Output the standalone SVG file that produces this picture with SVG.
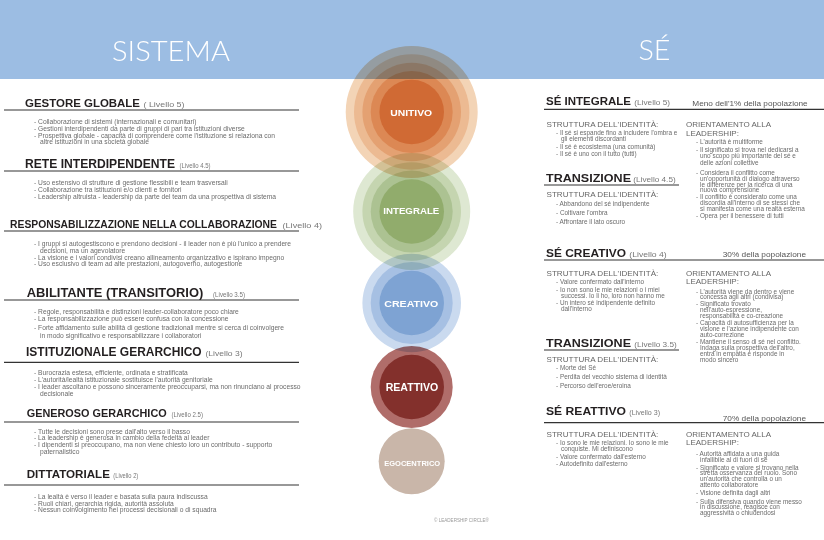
<svg xmlns="http://www.w3.org/2000/svg" width="824" height="540" viewBox="0 0 824 540">
<style>
text{font-family:"Liberation Sans",Arial,sans-serif}
.ttl{font-family:"Lato","Roboto","Open Sans",sans-serif;font-weight:300;font-size:28px;fill:#ffffff}
.h{font-weight:bold;fill:#231f20}
.hr{font-weight:bold;font-size:11.5px;fill:#231f20}
.lv{font-size:7.5px;fill:#777777}
.lvr{font-size:8px;fill:#777777}
.b{font-size:6.7px;fill:#6b6b6b}
.br{font-size:6.4px;fill:#6b6b6b}
.st{font-size:8px;fill:#666666}
.pop{font-size:8px;fill:#555555}
.rule{stroke:#333333;stroke-width:1.2;fill:none}
.ct{font-weight:bold;fill:#ffffff;text-anchor:middle}
.lvl{mix-blend-mode:multiply}
</style>
<rect x="0" y="0" width="824" height="540" fill="#ffffff"/>
<rect x="0" y="0" width="824" height="79" fill="#9cbde3"/>
<text class="ttl" x="112" y="60.7" textLength="118" lengthAdjust="spacingAndGlyphs">SISTEMA</text>
<text class="ttl" x="638.5" y="60" textLength="32" lengthAdjust="spacingAndGlyphs">SÉ</text>

<g id="unitivo" class="lvl">
<circle cx="411.7" cy="112" r="66" fill="#f3d4b6"/>
<circle cx="411.7" cy="112" r="57.7" fill="#ecba92"/>
<circle cx="411.7" cy="112" r="49.3" fill="#e4a172"/>
<circle cx="411.7" cy="112" r="41" fill="#dc8854"/>
<circle cx="411.7" cy="112" r="32.3" fill="#d06a34"/>
</g>
<g id="integrale" class="lvl">
<circle cx="411.7" cy="211.5" r="58.5" fill="#dee8d2"/>
<circle cx="411.7" cy="211.5" r="49.3" fill="#c5d5b0"/>
<circle cx="411.7" cy="211.5" r="41" fill="#acc292"/>
<circle cx="411.7" cy="211.5" r="32.3" fill="#91ac6c"/>
</g>
<g id="creativo" class="lvl">
<circle cx="411.7" cy="303" r="49.3" fill="#cadaef"/>
<circle cx="411.7" cy="303" r="41" fill="#a6c0e3"/>
<circle cx="411.7" cy="303" r="32.3" fill="#7ea3d3"/>
</g>
<g id="reattivo" class="lvl">
<circle cx="411.7" cy="387" r="41" fill="#b06d6a"/>
<circle cx="411.7" cy="387" r="32.3" fill="#83302c"/>
</g>
<g id="egocentrico" class="lvl">
<circle cx="411.7" cy="461.3" r="33" fill="#c9b6a9"/>
</g>
<g id="circle-labels">
<text class="ct" x="411.2" y="116" font-size="9" textLength="42" lengthAdjust="spacingAndGlyphs">UNITIVO</text>
<text class="ct" x="411.3" y="214" font-size="9" textLength="56" lengthAdjust="spacingAndGlyphs">INTEGRALE</text>
<text class="ct" x="411.3" y="306.7" font-size="9" textLength="54" lengthAdjust="spacingAndGlyphs">CREATIVO</text>
<text class="ct" x="412" y="391" font-size="10.5" textLength="52.6" lengthAdjust="spacingAndGlyphs">REATTIVO</text>
<text class="ct" x="412.2" y="466" font-size="8" textLength="56" lengthAdjust="spacingAndGlyphs">EGOCENTRICO</text>
</g>
<text x="434" y="521.5" font-size="4.8" fill="#9a9a9a" textLength="55" lengthAdjust="spacingAndGlyphs">© LEADERSHIP CIRCLE®</text>

<g id="connectors"></g>

<g id="gestore-globale">
<text class="h" x="25" y="107.3" style="font-size:11.4px" textLength="115" lengthAdjust="spacingAndGlyphs">GESTORE GLOBALE</text>
<text class="lv" x="143.5" y="107.3" textLength="41" lengthAdjust="spacingAndGlyphs">( Livello 5)</text>
<line class="rule" x1="4" y1="110" x2="299" y2="110"/>
<text class="b" x="34" y="124">- Collaborazione di sistemi (internazionali e comunitari)</text>
<text class="b" x="34" y="131">- Gestioni interdipendenti da parte di gruppi di pari tra istituzioni diverse</text>
<text class="b" x="34" y="137.7">- Prospettiva globale - capacità di comprendere come l'istituzione si relaziona con</text>
<text class="b" x="40" y="144.3">altre istituzioni in una società globale</text>
</g>
<g id="rete-interdipendente">
<text class="h" x="25" y="167.7" style="font-size:12px" textLength="150" lengthAdjust="spacingAndGlyphs">RETE INTERDIPENDENTE</text>
<text class="lv" x="179.5" y="167.7" textLength="31" lengthAdjust="spacingAndGlyphs">(Livello 4.5)</text>
<line class="rule" x1="4" y1="171" x2="299" y2="171"/>
<text class="b" x="34" y="185.3">- Uso estensivo di strutture di gestione flessibili e team trasversali</text>
<text class="b" x="34" y="192.3">- Collaborazione tra istituzioni e/o clienti e fornitori</text>
<text class="b" x="34" y="199.3">- Leadership altruista - leadership da parte del team da una prospettiva di sistema</text>
</g>
<g id="responsabilizzazione">
<text class="h" x="10" y="228.3" style="font-size:10.3px" textLength="267" lengthAdjust="spacingAndGlyphs">RESPONSABILIZZAZIONE NELLA COLLABORAZIONE</text>
<text class="lv" x="282.5" y="228.3" textLength="39.5" lengthAdjust="spacingAndGlyphs">(Livello 4)</text>
<line class="rule" x1="4" y1="231" x2="299" y2="231"/>
<text class="b" x="34" y="246.3">- I gruppi si autogestiscono e prendono decisioni - il leader non è più l'unico a prendere</text>
<text class="b" x="40" y="252.7">decisioni, ma un agevolatore</text>
<text class="b" x="34" y="259.7">- La visione e i valori condivisi creano allineamento organizzativo e ispirano impegno</text>
<text class="b" x="34" y="266.3">- Uso esclusivo di team ad alte prestazioni, autogoverno, autogestione</text>
</g>
<g id="abilitante">
<text class="h" x="26.7" y="296.7" style="font-size:12.5px" textLength="176.6" lengthAdjust="spacingAndGlyphs">ABILITANTE (TRANSITORIO)</text>
<text class="lv" x="213" y="296.7" textLength="32" lengthAdjust="spacingAndGlyphs">(Livello 3.5)</text>
<line class="rule" x1="4" y1="300" x2="299" y2="300"/>
<text class="b" x="34" y="313.7">- Regole, responsabilità e distinzioni leader-collaboratore poco chiare</text>
<text class="b" x="34" y="320.7">- La responsabilizzazione può essere confusa con la concessione</text>
<text class="b" x="34" y="330.3">- Forte affidamento sulle abilità di gestione tradizionali mentre si cerca di coinvolgere</text>
<text class="b" x="40" y="337.7">in modo significativo e responsabilizzare i collaboratori</text>
</g>
<g id="istituzionale-gerarchico">
<text class="h" x="26" y="355.7" style="font-size:11.9px" textLength="175.7" lengthAdjust="spacingAndGlyphs">ISTITUZIONALE GERARCHICO</text>
<text class="lv" x="205.5" y="355.7" textLength="37" lengthAdjust="spacingAndGlyphs">(Livello 3)</text>
<line class="rule" x1="4" y1="362.3" x2="299" y2="362.3"/>
<text class="b" x="34" y="374.7">- Burocrazia estesa, efficiente, ordinata e stratificata</text>
<text class="b" x="34" y="382">- L'autorità/lealtà istituzionale sostituisce l'autorità genitoriale</text>
<text class="b" x="34" y="389.3">- I leader ascoltano e possono sinceramente preoccuparsi, ma non rinunciano al processo</text>
<text class="b" x="40" y="396">decisionale</text>
</g>
<g id="generoso-gerarchico">
<text class="h" x="26.7" y="416.7" style="font-size:10.8px" textLength="140" lengthAdjust="spacingAndGlyphs">GENEROSO GERARCHICO</text>
<text class="lv" x="171.5" y="416.7" textLength="31.5" lengthAdjust="spacingAndGlyphs">(Livello 2.5)</text>
<line class="rule" x1="4" y1="422" x2="299" y2="422"/>
<text class="b" x="34" y="433.7">- Tutte le decisioni sono prese dall'alto verso il basso</text>
<text class="b" x="34" y="440.3">- La leadership è generosa in cambio della fedeltà al leader</text>
<text class="b" x="34" y="447">- I dipendenti si preoccupano, ma non viene chiesto loro un contributo - supporto</text>
<text class="b" x="40" y="453.7">paternalistico</text>
</g>
<g id="dittatoriale">
<text class="h" x="26.7" y="478.3" style="font-size:11.3px" textLength="83.3" lengthAdjust="spacingAndGlyphs">DITTATORIALE</text>
<text class="lv" x="113.3" y="478.3" textLength="25" lengthAdjust="spacingAndGlyphs">(Livello 2)</text>
<line class="rule" x1="4" y1="485" x2="299" y2="485"/>
<text class="b" x="34" y="499">- La lealtà è verso il leader e basata sulla paura indiscussa</text>
<text class="b" x="34" y="505.7">- Ruoli chiari, gerarchia rigida, autorità assoluta</text>
<text class="b" x="34" y="512.3">- Nessun coinvolgimento nei processi decisionali o di squadra</text>
</g>

<g id="se-integrale">
<text class="hr" x="546" y="105" textLength="85" lengthAdjust="spacingAndGlyphs">SÉ INTEGRALE</text>
<text class="lvr" x="634.3" y="105" textLength="35.7" lengthAdjust="spacingAndGlyphs">(Livello 5)</text>
<text class="pop" x="692.3" y="106" textLength="115.4" lengthAdjust="spacingAndGlyphs">Meno dell'1% della popolazione</text>
<line class="rule" x1="544" y1="109.3" x2="824" y2="109.3"/>
<text class="st" x="546.5" y="127" textLength="111.8" lengthAdjust="spacingAndGlyphs">STRUTTURA DELL'IDENTITÀ:</text>
<text class="br" x="556" y="135.3">- Il sé si espande fino a includere l'ombra e</text>
<text class="br" x="561" y="141">gli elementi discordanti</text>
<text class="br" x="556" y="148.7">- Il sé è ecosistema (una comunità)</text>
<text class="br" x="556" y="156.3">- Il sé è uno con il tutto (tutti)</text>
<text class="st" x="686" y="127">ORIENTAMENTO ALLA</text>
<text class="st" x="686" y="135.5">LEADERSHIP:</text>
<text class="br" x="696" y="143.7">- L'autorità è multiforme</text>
<text class="br" x="696" y="152">- Il significato si trova nel dedicarsi a</text>
<text class="br" x="700" y="158">uno scopo più importante del sé e</text>
<text class="br" x="700" y="164.5">delle azioni collettive</text>
<text class="br" x="696" y="175">- Considera il conflitto come</text>
<text class="br" x="700" y="181">un'opportunità di dialogo attraverso</text>
<text class="br" x="700" y="186.7">le differenze per la ricerca di una</text>
<text class="br" x="700" y="192.2">nuova comprensione</text>
<text class="br" x="696" y="198.7">- Il conflitto è considerato come una</text>
<text class="br" x="700" y="204.7">discordia all'interno di se stessi che</text>
<text class="br" x="700" y="210.7">si manifesta come una realtà esterna</text>
<text class="br" x="696" y="218">- Opera per il benessere di tutti</text>
</g>
<g id="transizione-4-5">
<text class="hr" x="546" y="181.7" textLength="85" lengthAdjust="spacingAndGlyphs">TRANSIZIONE</text>
<text class="lvr" x="633.3" y="181.7" textLength="42.4" lengthAdjust="spacingAndGlyphs">(Livello 4.5)</text>
<line class="rule" x1="544" y1="185" x2="679" y2="185"/>
<text class="st" x="546.5" y="197" textLength="111.8" lengthAdjust="spacingAndGlyphs">STRUTTURA DELL'IDENTITÀ:</text>
<text class="br" x="556" y="205.5">- Abbandono del sé indipendente</text>
<text class="br" x="556" y="214.5">- Coltivare l'ombra</text>
<text class="br" x="556" y="223.5">- Affrontare il lato oscuro</text>
</g>
<g id="se-creativo">
<text class="hr" x="546" y="256.7" textLength="80" lengthAdjust="spacingAndGlyphs">SÉ CREATIVO</text>
<text class="lvr" x="629.3" y="256.7" textLength="37.4" lengthAdjust="spacingAndGlyphs">(Livello 4)</text>
<text class="pop" x="722.7" y="256.7" textLength="83.3" lengthAdjust="spacingAndGlyphs">30% della popolazione</text>
<line class="rule" x1="544" y1="260" x2="824" y2="260"/>
<text class="st" x="546.5" y="276" textLength="111.8" lengthAdjust="spacingAndGlyphs">STRUTTURA DELL'IDENTITÀ:</text>
<text class="br" x="556" y="283.7">- Valore confermato dall'interno</text>
<text class="br" x="556" y="292">- Io non sono le mie relazioni o i miei</text>
<text class="br" x="561" y="298">successi. Io li ho, loro non hanno me</text>
<text class="br" x="556" y="305.3">- Un intero sé indipendente definito</text>
<text class="br" x="561" y="311.3">dall'interno</text>
<text class="st" x="686" y="276">ORIENTAMENTO ALLA</text>
<text class="st" x="686" y="283.5">LEADERSHIP:</text>
<text class="br" x="696" y="293.7">- L'autorità viene da dentro e viene</text>
<text class="br" x="700" y="299.3">concessa agli altri (condivisa)</text>
<text class="br" x="696" y="306.3">- Significato trovato</text>
<text class="br" x="700" y="312">nell'auto-espressione,</text>
<text class="br" x="700" y="318">responsabilità e co-creazione</text>
<text class="br" x="696" y="325.3">- Capacità di autosufficienza per la</text>
<text class="br" x="700" y="331.3">visione e l'azione indipendente con</text>
<text class="br" x="700" y="337">auto-correzione</text>
<text class="br" x="696" y="344.3">- Mantiene il senso di sé nel conflitto.</text>
<text class="br" x="700" y="350.3">Indaga sulla prospettiva dell'altro,</text>
<text class="br" x="700" y="356.3">entra in empatia e risponde in</text>
<text class="br" x="700" y="362">modo sincero</text>
</g>
<g id="transizione-3-5">
<text class="hr" x="546" y="346.7" textLength="85" lengthAdjust="spacingAndGlyphs">TRANSIZIONE</text>
<text class="lvr" x="634.3" y="346.7" textLength="42.4" lengthAdjust="spacingAndGlyphs">(Livello 3.5)</text>
<line class="rule" x1="544" y1="350" x2="679" y2="350"/>
<text class="st" x="546.5" y="361.7" textLength="111.8" lengthAdjust="spacingAndGlyphs">STRUTTURA DELL'IDENTITÀ:</text>
<text class="br" x="556" y="370.3">- Morte del Sé</text>
<text class="br" x="556" y="378.7">- Perdita del vecchio sistema di identità</text>
<text class="br" x="556" y="387.7">- Percorso dell'eroe/eroina</text>
</g>
<g id="se-reattivo">
<text class="hr" x="546" y="415" textLength="80" lengthAdjust="spacingAndGlyphs">SÉ REATTIVO</text>
<text class="lvr" x="629.3" y="415" textLength="30.7" lengthAdjust="spacingAndGlyphs">(Livello 3)</text>
<text class="pop" x="722.7" y="420.5" textLength="83.3" lengthAdjust="spacingAndGlyphs">70% della popolazione</text>
<line class="rule" x1="544" y1="422.7" x2="824" y2="422.7"/>
<text class="st" x="546.5" y="437" textLength="111.8" lengthAdjust="spacingAndGlyphs">STRUTTURA DELL'IDENTITÀ:</text>
<text class="br" x="556" y="445.3">- Io sono le mie relazioni. Io sono le mie</text>
<text class="br" x="561" y="451.3">conquiste. Mi definiscono</text>
<text class="br" x="556" y="458.7">- Valore confermato dall'esterno</text>
<text class="br" x="556" y="466.3">- Autodefinito dall'esterno</text>
<text class="st" x="686" y="437">ORIENTAMENTO ALLA</text>
<text class="st" x="686" y="445">LEADERSHIP:</text>
<text class="br" x="696" y="456">- Autorità affidata a una guida</text>
<text class="br" x="700" y="462">infallibile al di fuori di sé</text>
<text class="br" x="696" y="469.7">- Significato e valore si trovano nella</text>
<text class="br" x="700" y="475.3">stretta osservanza del ruolo. Sono</text>
<text class="br" x="700" y="481.3">un'autorità che controlla o un</text>
<text class="br" x="700" y="487">attento collaboratore</text>
<text class="br" x="696" y="495.3">- Visione definita dagli altri</text>
<text class="br" x="696" y="503.7">- Sulla difensiva quando viene messo</text>
<text class="br" x="700" y="509.3">in discussione, reagisce con</text>
<text class="br" x="700" y="515.3">aggressività o chiudendosi</text>
</g>
</svg>
